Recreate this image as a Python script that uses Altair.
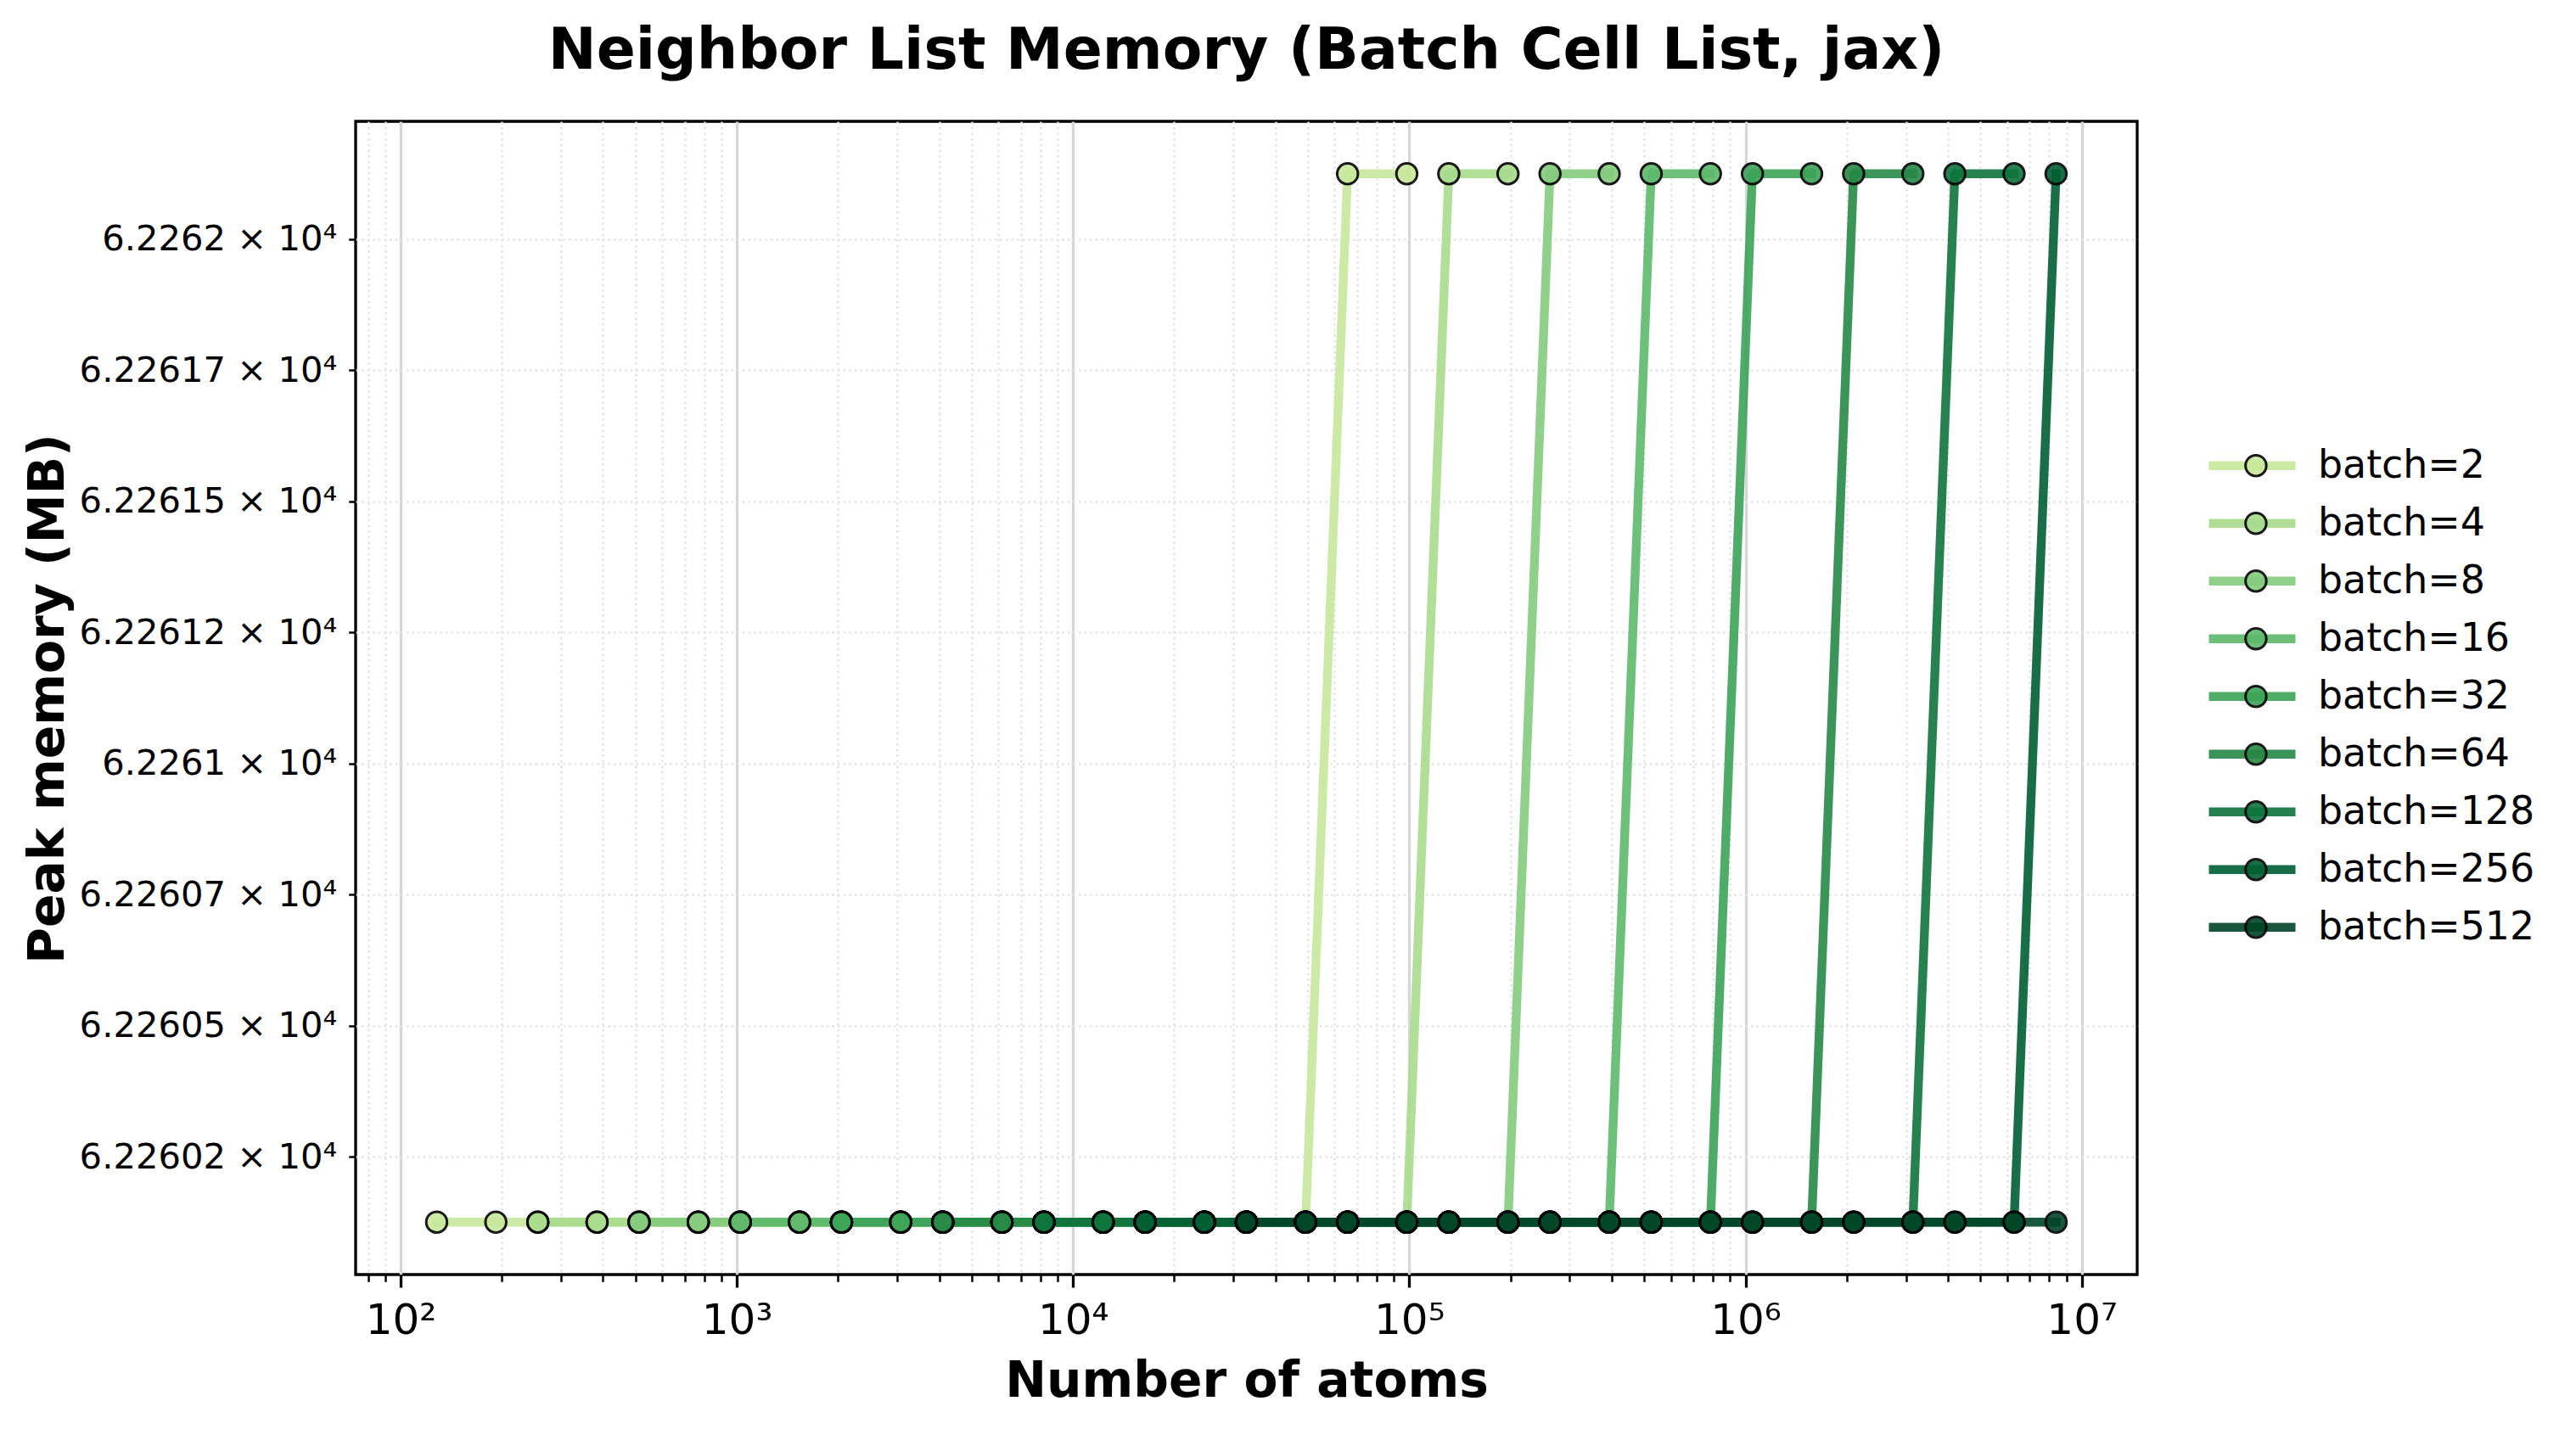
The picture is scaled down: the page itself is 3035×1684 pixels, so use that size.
import json
import altair as alt
import pandas as pd

# ---------------- data ----------------
atoms = [128, 192, 256, 384, 512, 768, 1024, 1536, 2048, 3072, 4096, 6144,
         8192, 12288, 16384, 24576, 32768, 49152, 65536, 98304, 131072,
         196608, 262144, 393216, 524288, 786432, 1048576, 1572864, 2097152,
         3145728, 4194304, 6291456, 8388608]

batch_labels = ["batch=2", "batch=4", "batch=8", "batch=16", "batch=32",
                "batch=64", "batch=128", "batch=256", "batch=512"]

N = None
mem_b2 = [62260.125, 62260.125, 62260.125, 62260.125, 62260.125, 62260.125,
          62260.125, 62260.125, 62260.125, 62260.125, 62260.125, 62260.125,
          62260.125, 62260.125, 62260.125, 62260.125, 62260.125, 62260.125,
          62262.125, 62262.125, N, N, N, N, N, N, N, N, N, N, N, N, N]
mem_b4 = [N, N, 62260.125, 62260.125, 62260.125, 62260.125, 62260.125,
          62260.125, 62260.125, 62260.125, 62260.125, 62260.125, 62260.125,
          62260.125, 62260.125, 62260.125, 62260.125, 62260.125, 62260.125,
          62260.125, 62262.125, 62262.125, N, N, N, N, N, N, N, N, N, N, N]
mem_b8 = [N, N, N, N, 62260.125, 62260.125, 62260.125, 62260.125, 62260.125,
          62260.125, 62260.125, 62260.125, 62260.125, 62260.125, 62260.125,
          62260.125, 62260.125, 62260.125, 62260.125, 62260.125, 62260.125,
          62260.125, 62262.125, 62262.125, N, N, N, N, N, N, N, N, N]
mem_b16 = [N, N, N, N, N, N, 62260.125, 62260.125, 62260.125, 62260.125,
           62260.125, 62260.125, 62260.125, 62260.125, 62260.125, 62260.125,
           62260.125, 62260.125, 62260.125, 62260.125, 62260.125, 62260.125,
           62260.125, 62260.125, 62262.125, 62262.125, N, N, N, N, N, N, N]
mem_b32 = [N, N, N, N, N, N, N, N, 62260.125, 62260.125, 62260.125, 62260.125,
           62260.125, 62260.125, 62260.125, 62260.125, 62260.125, 62260.125,
           62260.125, 62260.125, 62260.125, 62260.125, 62260.125, 62260.125,
           62260.125, 62260.125, 62262.125, 62262.125, N, N, N, N, N]
mem_b64 = [N, N, N, N, N, N, N, N, N, N, 62260.125, 62260.125, 62260.125,
           62260.125, 62260.125, 62260.125, 62260.125, 62260.125, 62260.125,
           62260.125, 62260.125, 62260.125, 62260.125, 62260.125, 62260.125,
           62260.125, 62260.125, 62260.125, 62262.125, 62262.125, N, N, N]
mem_b128 = [N, N, N, N, N, N, N, N, N, N, N, N, 62260.125, 62260.125,
            62260.125, 62260.125, 62260.125, 62260.125, 62260.125, 62260.125,
            62260.125, 62260.125, 62260.125, 62260.125, 62260.125, 62260.125,
            62260.125, 62260.125, 62260.125, 62260.125, 62262.125, 62262.125, N]
mem_b256 = [N, N, N, N, N, N, N, N, N, N, N, N, N, N, 62260.125, 62260.125,
            62260.125, 62260.125, 62260.125, 62260.125, 62260.125, 62260.125,
            62260.125, 62260.125, 62260.125, 62260.125, 62260.125, 62260.125,
            62260.125, 62260.125, 62260.125, 62260.125, 62262.125]
mem_b512 = [N, N, N, N, N, N, N, N, N, N, N, N, N, N, N, N, 62260.125,
            62260.125, 62260.125, 62260.125, 62260.125, 62260.125, 62260.125,
            62260.125, 62260.125, 62260.125, 62260.125, 62260.125, 62260.125,
            62260.125, 62260.125, 62260.125, 62260.125]

memory_series = [mem_b2, mem_b4, mem_b8, mem_b16, mem_b32, mem_b64,
                 mem_b128, mem_b256, mem_b512]

x_major_values = [100, 1000, 10000, 100000, 1000000, 10000000]
x_major_labels = ["10²", "10³", "10⁴", "10⁵", "10⁶", "10⁷"]
x_minor_values = [80, 90,
                  200, 300, 400, 500, 600, 700, 800, 900,
                  2000, 3000, 4000, 5000, 6000, 7000, 8000, 9000,
                  20000, 30000, 40000, 50000, 60000, 70000, 80000, 90000,
                  200000, 300000, 400000, 500000, 600000, 700000, 800000, 900000,
                  2000000, 3000000, 4000000, 5000000, 6000000, 7000000, 8000000, 9000000]

y_tick_values = [62260.25, 62260.5, 62260.75, 62261.0, 62261.25, 62261.5,
                 62261.75, 62262.0]
y_tick_labels = ["6.22602 × 10⁴", "6.22605 × 10⁴", "6.22607 × 10⁴",
                 "6.2261 × 10⁴", "6.22612 × 10⁴", "6.22615 × 10⁴",
                 "6.22617 × 10⁴", "6.2262 × 10⁴"]

colors = ["#c7e89b", "#a8db8c", "#83cb7d", "#5db96b", "#3ba358",
          "#268846", "#0e733c", "#005e33", "#004529"]

# ---------------- table ----------------
rows = []
for lab, mem in zip(batch_labels, memory_series):
    for a, m in zip(atoms, mem):
        if m is not None:
            rows.append({"atoms": a, "memory": m, "series": lab, "series_fill": lab})
df = pd.DataFrame(rows)

FONT = "DejaVu Sans"
PLOT_W, PLOT_H = 2099, 1359

x_scale = alt.Scale(type="log", domain=[73.5, 14620000], nice=False)
y_scale = alt.Scale(type="log", domain=[62260.025, 62262.225], nice=False, zero=False)

x_label_expr = (json.dumps(x_major_labels, ensure_ascii=False)
                + "[indexof(" + json.dumps(x_major_values) + ", datum.value)]")
y_label_expr = (json.dumps(y_tick_labels, ensure_ascii=False)
                + "[indexof(" + json.dumps(y_tick_values) + ", datum.value)]")

x_major_axis = alt.Axis(
    orient="bottom", values=x_major_values, labelExpr=x_label_expr,
    tickSize=15, tickWidth=3.3, tickColor="black",
    labelFont=FONT, labelFontSize=50, labelColor="black", labelPadding=54,
    labelBaseline="alphabetic", labelFlush=False, labelOverlap=False,
    labelLimit=600,
    grid=True, gridColor="#d6d6d6", gridWidth=3.3, gridOpacity=1,
    domain=False,
    title="Number of atoms", titleFont=FONT, titleFontSize=58.3,
    titleFontWeight="bold", titleColor="black", titleY=143,
    titleBaseline="alphabetic",
)
x_minor_axis = alt.Axis(
    orient="bottom", values=x_minor_values, labels=False,
    tickSize=8.3, tickWidth=2.5, tickColor="black",
    grid=True, gridColor="#e3e3e3", gridWidth=2.5, gridDash=[2.5, 4.1],
    gridOpacity=1, domain=False, title=None,
)
y_axis = alt.Axis(
    values=y_tick_values, labelExpr=y_label_expr,
    tickSize=8.3, tickWidth=2.5, tickColor="black",
    labelFont=FONT, labelFontSize=41.7, labelColor="black", labelPadding=14,
    labelFlush=False, labelOverlap=False, labelLimit=600,
    grid=True, gridColor="#e3e3e3", gridWidth=2.5, gridDash=[2.5, 4.1],
    gridOpacity=1, domain=False,
    title="Peak memory (MB)", titleFont=FONT, titleFontSize=58.3,
    titleFontWeight="bold", titleColor="black", titleX=-362, titleY=680,
    titleAngle=270, titleAlign="center", titleBaseline="middle",
)

line_legend = alt.Legend(
    title=None, orient="none", legendX=2178, legendY=372,
    symbolType="stroke", symbolSize=10404, symbolStrokeWidth=10.4,
    symbolOpacity=0.9, labelFont=FONT, labelFontSize=45.8, labelColor="black",
    labelOffset=21, labelLimit=0, rowPadding=0, clipHeight=67.4, padding=0,
    zindex=1,
)
point_legend = alt.Legend(
    title=None, orient="none", legendX=2216, legendY=372,
    symbolType="circle", symbolSize=600, symbolStrokeColor="black",
    symbolStrokeWidth=3, symbolOpacity=0.9, labelFont=FONT, labelFontSize=45.8,
    labelExpr="''", labelOpacity=0, labelLimit=0, rowPadding=0,
    clipHeight=67.4, padding=0, zindex=2,
)

lines = alt.Chart(df).mark_line(
    strokeWidth=10.4, opacity=0.9, strokeJoin="round", strokeCap="square"
).encode(
    x=alt.X("atoms:Q", scale=x_scale, axis=x_major_axis),
    y=alt.Y("memory:Q", scale=y_scale, axis=y_axis),
    color=alt.Color("series:N", scale=alt.Scale(domain=batch_labels, range=colors),
                    legend=line_legend),
)

points = alt.Chart(df).mark_point(
    filled=True, shape="circle", size=600, stroke="black", strokeWidth=3,
    opacity=0.9
).encode(
    x=alt.X("atoms:Q", scale=x_scale, axis=x_minor_axis),
    y=alt.Y("memory:Q", scale=y_scale, axis=y_axis),
    fill=alt.Fill("series_fill:N", sort=batch_labels,
                  scale=alt.Scale(range=colors), legend=point_legend),
)

chart = alt.layer(lines, points).resolve_axis(x="independent").properties(
    width=PLOT_W, height=PLOT_H,
    background="white",
    padding={"left": 411, "top": 135, "right": 509, "bottom": 160},
    autosize=alt.AutoSizeParams(type="none"),
    title=alt.TitleParams(
        text="Neighbor List Memory (Batch Cell List, jax)", font=FONT,
        fontSize=68, fontWeight="bold", color="black", anchor="middle",
        frame="group", baseline="alphabetic", offset=-6,
    ),
).configure_view(stroke="black", strokeWidth=3.3)

chart.save("out.html", embed_options={"renderer": "svg", "actions": False})
